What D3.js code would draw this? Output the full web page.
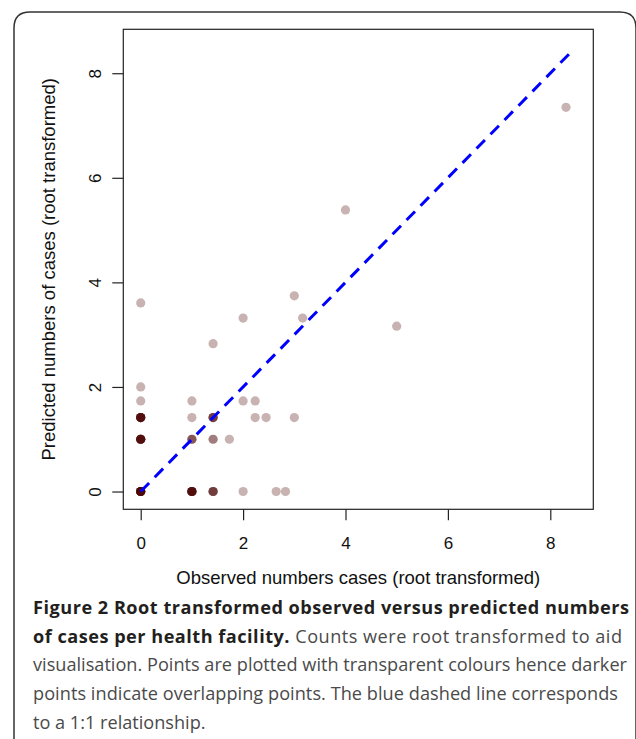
<!DOCTYPE html>
<html>
<head>
<meta charset="utf-8">
<script src="https://cdn.jsdelivr.net/npm/d3@7"></script>
<style>
  body { margin: 0; background: #fff; }
</style>
</head>
<body>
<div id="chart"></div>
<script>
// root transformed counts, one entry per facility (overlaps kept)
const observed = [
  0, 0, 0, 0, 0, 0, 0, 0, 0, 0,
  1, 1, 1, 1, 1, 1, 1, 1,
  1.414, 1.414, 1.414, 1.414,
  2, 2.646, 2.828,
  0, 0, 0, 0, 0, 0, 0, 0,
  1, 1, 1,
  1.414, 1.414,
  1.732,
  0, 0, 0, 0, 0, 0, 0, 0,
  1,
  1.414, 1.414, 1.414, 1.414,
  2.236, 2.449, 3,
  0, 1, 2, 2.236,
  0,
  1.414,
  2, 3.162, 3,
  0,
  5,
  4,
  8.307
];
const predicted = [
  0, 0, 0, 0, 0, 0, 0, 0, 0, 0,
  0, 0, 0, 0, 0, 0, 0, 0,
  0, 0, 0, 0,
  0, 0, 0,
  1, 1, 1, 1, 1, 1, 1, 1,
  1, 1, 1,
  1, 1,
  1,
  1.414, 1.414, 1.414, 1.414, 1.414, 1.414, 1.414, 1.414,
  1.414,
  1.414, 1.414, 1.414, 1.414,
  1.414, 1.414, 1.414,
  1.732, 1.732, 1.732, 1.732,
  2,
  2.828,
  3.317, 3.317, 3.742,
  3.606,
  3.162,
  5.385,
  7.348
];
const ticks = [0, 2, 4, 6, 8];
const oneToOne = [0, 8.4];

const sans = "Liberation Sans, Arial, sans-serif";
const capFont = "Open Sans, Noto Sans, sans-serif";

const width = 636, height = 739;
const svg = d3.select("#chart").append("svg")
  .attr("width", width)
  .attr("height", height);

// figure frame (rounded top corners, open at the bottom)
svg.append("path")
  .attr("d", "M14,739 L14,28 Q14,12 30,12 L620,12 Q636,12 636,28 L636,739")
  .attr("fill", "none")
  .attr("stroke", "#333")
  .attr("stroke-width", 1.5);

const plot = { left: 123.3, right: 593.3, top: 29.3, bottom: 509.3 };
const domain = [-0.34, 8.84];
const x = d3.scaleLinear().domain(domain).range([plot.left, plot.right]);
const y = d3.scaleLinear().domain(domain).range([plot.bottom, plot.top]);

// x axis
const xAxis = svg.append("g")
  .attr("transform", `translate(0,${plot.bottom})`)
  .call(d3.axisBottom(x).tickValues(ticks).tickSize(11).tickPadding(17).tickSizeOuter(0));
xAxis.select(".domain").remove();
xAxis.selectAll("line").attr("stroke", "#222").attr("stroke-width", 1.2);
xAxis.selectAll("text").attr("font-size", 17).attr("fill", "#111")
  .attr("font-family", sans);

// y axis (labels parallel to axis)
const yAxis = svg.append("g")
  .attr("transform", `translate(${plot.left},0)`)
  .call(d3.axisLeft(y).tickValues(ticks).tickSize(11).tickSizeOuter(0));
yAxis.select(".domain").remove();
yAxis.selectAll("line").attr("stroke", "#222").attr("stroke-width", 1.2);
yAxis.selectAll("text")
  .attr("font-size", 17).attr("fill", "#111")
  .attr("font-family", sans)
  .attr("x", null)
  .attr("y", 0)
  .attr("text-anchor", "middle")
  .attr("transform", "translate(-28,0) rotate(-90)")
  .attr("dy", "0.35em");

// plot box
svg.append("rect")
  .attr("x", plot.left).attr("y", plot.top)
  .attr("width", plot.right - plot.left)
  .attr("height", plot.bottom - plot.top)
  .attr("fill", "none")
  .attr("stroke", "#222")
  .attr("stroke-width", 1.2);

// points, transparent so overlaps darken
svg.append("g").selectAll("circle")
  .data(d3.range(observed.length))
  .enter()
  .append("circle")
  .attr("cx", i => x(observed[i]))
  .attr("cy", i => y(predicted[i]))
  .attr("r", 4.6)
  .attr("fill", "#4a0000")
  .attr("fill-opacity", 0.3);

// 1:1 line
svg.append("line")
  .attr("x1", x(oneToOne[0])).attr("y1", y(oneToOne[0]))
  .attr("x2", x(oneToOne[1])).attr("y2", y(oneToOne[1]))
  .attr("stroke", "#0000ff")
  .attr("stroke-width", 3)
  .attr("stroke-dasharray", "12,8");

// axis titles
svg.append("text")
  .attr("x", (plot.left + plot.right) / 2)
  .attr("y", 584)
  .attr("text-anchor", "middle")
  .attr("font-family", sans)
  .attr("font-size", 18.5)
  .attr("fill", "#111")
  .text("Observed numbers cases (root transformed)");

svg.append("text")
  .attr("transform", `translate(55,${(plot.top + plot.bottom) / 2}) rotate(-90)`)
  .attr("text-anchor", "middle")
  .attr("font-family", sans)
  .attr("font-size", 18.5)
  .attr("fill", "#111")
  .text("Predicted numbers of cases (root transformed)");

// caption, with the width each line takes in the original
const capLines = [
  [["Figure 2 Root transformed observed versus predicted numbers", true]],
  [["of cases per health facility.", true], [" Counts were root transformed to aid", false]],
  [["visualisation. Points are plotted with transparent colours hence darker", false]],
  [["points indicate overlapping points. The blue dashed line corresponds", false]],
  [["to a 1:1 relationship.", false]]
];
const capWidths = [596, 589, 594, 585, 280];
const cap = svg.append("g");
const capText = capLines.map((parts, i) => {
  const t = cap.append("text")
    .attr("x", 33)
    .attr("y", 614 + i * 28.7)
    .attr("font-family", capFont)
    .attr("font-size", 18);
  parts.forEach(p => {
    t.append("tspan")
      .attr("font-weight", p[1] ? "bold" : "normal")
      .attr("fill", p[1] ? "#231f20" : "#4a4a4a")
      .text(p[0]);
  });
  return t;
});
// one font size that fits every line, then spread lines to their width
const ratio = d3.min(capText.slice(0, 4), (t, i) => capWidths[i] / t.node().getComputedTextLength());
capText.forEach(t => t.attr("font-size", 18 * ratio));
capText.slice(0, 4).forEach((t, i) => t.attr("textLength", capWidths[i]).attr("lengthAdjust", "spacing"));
</script>
</body>
</html>
